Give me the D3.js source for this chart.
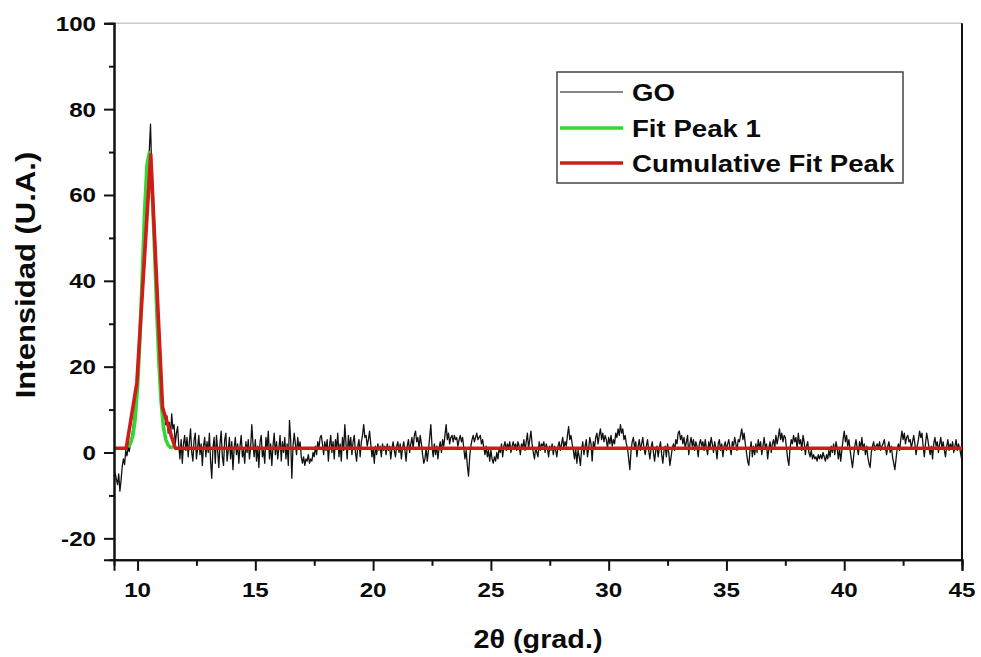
<!DOCTYPE html>
<html>
<head>
<meta charset="utf-8">
<script src="https://cdn.jsdelivr.net/npm/d3@7/dist/d3.min.js"></script>
<style>
  html, body { margin: 0; padding: 0; background: #fff; }
  svg { display: block; }
  text { font-family: "Liberation Sans", Arial, Helvetica, sans-serif; font-weight: bold; fill: #0a0a0a; }
</style>
</head>
<body>
<svg id="chart" width="981" height="657"></svg>
<script>
// X-ray diffraction pattern of GO (2θ from 9° to 45°, sampled every 0.05°)
const goStart = 9;
const goStep = 0.05;
const goIntensity = [
  -5.5,-4.8,-6.2,-7.5,-5.0,-9.0,-6.5,-3.2,-1.5,-2.8,0.5,-0.8,1.2,0.2,2.5,3.8,5.5,8.0,10.5,14.0,
  18.5,22.0,28.5,34.0,41.0,47.5,54.0,59.0,64.5,68.0,70.5,76.5,66.0,61.0,54.5,46.0,38.5,31.0,25.5,19.0,
  15.5,12.0,10.5,9.0,6.5,8.5,4.5,7.0,3.5,9.0,5.5,6.5,2.0,4.5,6.0,1.5,-1.5,3.0,-2.5,2.0,
  4.0,0.5,3.5,-1.0,2.5,5.5,0.0,-2.0,3.0,4.5,-1.5,1.0,4.0,-0.5,2.0,-3.0,1.5,3.5,-1.0,2.5,
  0.0,4.5,-2.0,-6.0,1.0,3.5,-2.5,4.0,0.5,-3.5,2.0,5.0,-1.0,-3.0,3.0,4.5,-2.0,0.5,3.5,-1.5,
  2.5,-4.0,1.0,3.5,-0.5,2.0,-2.5,1.5,4.0,-1.0,0.5,-2.5,2.5,0.0,3.0,-1.5,1.0,6.5,2.0,-1.0,
  3.0,-2.0,1.5,-3.5,2.5,4.0,-1.0,0.5,-2.5,3.5,1.0,5.0,-1.5,2.0,-3.0,1.5,4.5,-0.5,2.5,-1.5,
  1.0,4.0,-2.0,2.5,0.0,3.5,-1.5,2.0,-3.0,7.5,3.0,-6.0,1.5,4.5,2.0,-0.5,3.5,1.0,2.5,-1.0,
  -2.5,-1.0,-3.0,-1.5,-2.0,-0.5,-2.5,-1.5,-2.0,0.0,-1.0,1.5,-0.5,2.5,1.0,3.5,4.0,2.0,-0.5,2.5,
  0.5,3.0,-2.0,1.5,4.0,0.0,2.5,-1.5,3.0,1.0,4.5,-1.0,2.0,-2.0,3.5,0.5,6.5,2.0,-1.5,4.0,
  1.0,3.5,-0.5,2.5,4.0,0.0,-2.0,1.5,3.0,-1.0,2.5,4.0,6.5,3.5,4.0,1.5,3.0,5.0,2.0,-1.0,
  1.0,-2.5,1.5,-0.5,2.0,0.5,1.5,-1.0,2.0,0.5,1.5,-0.5,2.0,0.5,1.5,-1.5,1.0,2.5,0.5,-1.0,
  1.5,2.5,0.0,2.0,-1.5,1.0,2.5,0.5,-2.0,1.5,3.0,0.0,2.0,3.5,1.0,4.0,5.0,2.5,3.5,1.0,
  4.0,2.0,-0.5,-2.5,-1.5,1.0,-2.0,0.5,3.5,6.5,1.5,-1.0,2.0,-0.5,1.5,-1.5,1.0,2.5,0.0,3.0,
  1.5,4.0,6.5,3.0,4.5,2.0,3.5,4.0,2.5,4.0,3.0,3.5,1.5,3.0,4.0,2.5,3.5,1.0,-1.5,0.5,
  -3.0,-5.5,-1.0,1.5,3.0,4.0,2.5,3.5,4.5,3.0,3.5,4.0,2.0,3.0,1.0,-0.5,1.5,-1.0,0.5,-2.0,
  0.5,-1.5,-2.5,-1.0,-2.0,0.0,-1.5,1.0,0.0,2.0,-1.0,1.5,2.5,0.5,2.0,1.0,2.5,0.0,1.5,2.5,
  1.0,2.0,0.5,2.5,1.5,-0.5,2.0,1.0,3.0,0.5,2.5,4.5,1.0,3.0,5.0,2.0,0.0,-1.5,1.0,0.0,
  -1.0,2.5,0.5,2.0,1.5,2.5,0.0,2.0,1.0,-1.0,1.5,0.5,2.0,-0.5,1.5,0.5,-1.0,1.5,2.5,0.5,
  2.0,3.5,1.0,2.5,1.5,4.0,6.0,3.0,4.0,2.0,0.5,-1.5,1.0,-2.5,0.5,-1.0,-3.0,0.5,2.5,-0.5,
  1.5,3.0,-1.0,1.0,3.5,2.0,-2.0,2.5,1.0,3.5,4.5,2.0,4.0,5.5,3.0,4.5,2.5,4.0,3.0,1.0,
  3.5,2.0,4.0,1.5,3.0,2.0,4.5,3.5,5.5,4.0,6.5,4.5,5.5,3.0,4.0,2.0,1.0,-1.5,-4.0,0.5,
  2.5,3.5,1.0,2.5,-1.0,1.5,3.0,0.5,2.0,3.5,1.0,-0.5,1.5,3.0,0.5,-1.5,1.0,2.5,0.0,-2.0,
  0.5,1.5,-1.0,1.0,2.5,-0.5,-2.5,0.5,1.5,-1.0,2.0,0.0,-3.0,-1.0,1.0,2.0,0.5,3.0,2.0,4.5,
  5.0,3.0,4.0,2.0,3.5,1.0,2.5,4.0,-0.5,2.0,3.5,1.5,3.0,0.5,2.5,1.5,-1.0,2.0,3.0,1.5,
  2.5,0.5,3.0,1.0,-0.5,2.5,1.0,3.5,2.0,0.0,2.5,1.0,-1.5,2.0,3.0,0.5,2.0,-1.0,1.5,2.5,
  0.5,2.0,3.0,1.0,-0.5,2.5,1.5,3.5,2.0,0.5,3.0,2.5,4.0,5.5,3.0,4.5,2.0,0.0,-2.0,-3.0,
  0.5,2.5,-1.0,1.5,-0.5,2.0,0.0,3.0,1.0,2.5,-0.5,1.5,3.5,1.0,2.0,-1.5,1.0,2.5,0.0,2.0,
  3.0,1.0,4.0,2.0,3.5,5.5,3.0,4.5,2.5,4.0,3.5,1.0,-1.5,-3.0,1.0,3.0,2.0,4.0,2.5,3.5,
  1.0,4.5,2.0,3.0,0.5,4.0,2.5,-0.5,1.5,2.5,0.0,-1.0,0.5,-1.5,-0.5,-1.5,-1.0,-2.0,-0.5,-1.5,
  -0.5,-1.5,0.0,-1.0,-2.0,-0.5,-1.5,0.5,-1.0,1.5,0.0,2.0,-0.5,2.5,1.0,-1.5,1.0,-2.0,0.5,3.0,
  5.0,2.5,4.0,1.5,3.0,0.5,-1.5,-3.5,-1.0,1.5,3.0,1.0,-0.5,2.5,1.0,3.5,0.5,2.0,-0.5,1.5,
  -1.0,-2.5,-3.5,0.0,1.5,2.5,0.5,1.5,2.0,1.0,2.5,0.5,1.5,2.0,3.0,1.0,-0.5,1.5,2.5,0.0,
  1.5,-1.0,-2.5,-4.0,-1.5,1.0,2.0,0.5,3.0,5.0,3.0,4.5,2.0,3.5,4.0,2.5,3.0,1.0,2.5,4.0,
  2.0,-0.5,1.5,3.0,5.0,3.5,4.5,1.5,-1.0,2.0,4.5,3.0,1.0,-0.5,1.5,-1.5,2.0,3.5,1.5,2.5,
  0.0,2.0,3.5,1.0,2.5,0.5,-1.0,1.5,3.0,0.5,2.0,1.0,2.5,0.0,1.5,3.0,0.5,2.0,1.0,-0.5,
  -2.0
];

// Gaussian component of the fit (Fit Peak 1)
const fitPeakX = [9.6, 9.7, 9.8, 9.9, 10.0, 10.1, 10.2, 10.3, 10.4, 10.5, 10.6, 10.7, 10.8, 10.9, 11.0, 11.1, 11.2, 11.3, 11.4, 11.5];
const fitPeakY = [1.3, 2.1, 3.9, 7.9, 15.2, 26.6, 41.3, 56.3, 67.0, 69.8, 63.5, 50.5, 35.2, 21.6, 11.8, 5.9, 3.0, 1.7, 1.2, 1.1];

// Cumulative fit (baseline + peak)
const cumFitX = [9.0, 9.52, 9.97, 10.56, 11.06, 11.6, 45.0];
const cumFitY = [1.0, 1.0, 16.2, 69.4, 10.5, 1.0, 1.0];

// Axes
const xTicks = [10, 15, 20, 25, 30, 35, 40, 45];
const xMinorTicks = [12.5, 17.5, 22.5, 27.5, 32.5, 37.5, 42.5];
const yTicks = [-20, 0, 20, 40, 60, 80, 100];
const yMinorTicks = [-10, 10, 30, 50, 70, 90];

const seriesNames = ["GO", "Fit Peak 1", "Cumulative Fit Peak"];
const seriesColors = ["#111111", "#33d633", "#d11a1a"];
const seriesWidths = [1.3, 3.6, 3.6];

const xTitle = "2\u03b8 (grad.)";
const yTitle = "Intensidad (U.A.)";

const svg = d3.select("#chart");
const plot = { left: 114, right: 962, top: 23.3, bottom: 559.8 };
const stretch = 1.15;

const x = d3.scaleLinear().domain([9, 45]).range([plot.left, plot.right]);
const y = d3.scaleLinear().domain([-25, 100]).range([plot.bottom, plot.top]);

// frame: light top edge, dark right edge
svg.append("line")
  .attr("x1", plot.left).attr("x2", plot.right)
  .attr("y1", plot.top).attr("y2", plot.top)
  .attr("stroke", "#c8c8c8").attr("stroke-width", 1.5);
svg.append("line")
  .attr("x1", plot.right).attr("x2", plot.right)
  .attr("y1", plot.top).attr("y2", plot.bottom)
  .attr("stroke", "#111").attr("stroke-width", 2);

// data
const goData = goIntensity.map((v, i) => [goStart + i * goStep, v]);
const fitData = fitPeakX.map((v, i) => [v, fitPeakY[i]]);
const cumData = cumFitX.map((v, i) => [v, cumFitY[i]]);

const line = d3.line().x(d => x(d[0])).y(d => y(d[1]));

svg.append("path").datum(goData)
  .attr("d", line).attr("fill", "none")
  .attr("stroke", seriesColors[0]).attr("stroke-width", seriesWidths[0])
  .attr("stroke-linejoin", "round");
svg.append("path").datum(fitData)
  .attr("d", line).attr("fill", "none")
  .attr("stroke", seriesColors[1]).attr("stroke-width", seriesWidths[1])
  .attr("stroke-linejoin", "round");
svg.append("path").datum(cumData)
  .attr("d", line).attr("fill", "none")
  .attr("stroke", seriesColors[2]).attr("stroke-width", seriesWidths[2])
  .attr("stroke-linejoin", "round");

// bottom axis
const xAxis = svg.append("g").attr("transform", `translate(0,${plot.bottom})`);
xAxis.call(d3.axisBottom(x).tickValues(xTicks).tickSize(11).tickFormat(""));
xAxis.append("g").call(d3.axisBottom(x).tickValues(xMinorTicks).tickSize(6).tickFormat(""));
xAxis.selectAll("path.domain").attr("stroke", "#111").attr("stroke-width", 2);
xAxis.selectAll(".tick line").attr("stroke", "#111").attr("stroke-width", 2);

// left axis
const yAxis = svg.append("g").attr("transform", `translate(${plot.left},0)`);
yAxis.call(d3.axisLeft(y).tickValues(yTicks).tickSize(10).tickFormat(""));
yAxis.append("g").call(d3.axisLeft(y).tickValues(yMinorTicks).tickSize(5).tickFormat(""));
yAxis.selectAll("path.domain").attr("stroke", "#111").attr("stroke-width", 2);
yAxis.selectAll(".tick line").attr("stroke", "#111").attr("stroke-width", 2);

// tick labels
svg.append("g").selectAll("text").data(xTicks).join("text")
  .attr("transform", d => `translate(${x(d)},597) scale(${stretch},1)`)
  .attr("text-anchor", "middle")
  .style("font-size", "21px")
  .text(d => d);

svg.append("g").selectAll("text").data(yTicks).join("text")
  .attr("transform", d => `translate(96,${y(d) + 7.5}) scale(${stretch},1)`)
  .attr("text-anchor", "end")
  .style("font-size", "21px")
  .text(d => d);

// axis titles
svg.append("text")
  .attr("transform", `translate(${(plot.left + plot.right) / 2},648) scale(${stretch},1)`)
  .attr("text-anchor", "middle")
  .style("font-size", "25px")
  .text(xTitle);

svg.append("text")
  .attr("transform", `translate(35,275) rotate(-90) scale(${stretch},1)`)
  .attr("text-anchor", "middle")
  .style("font-size", "27px")
  .text(yTitle);

// legend
const legend = svg.append("g");
legend.append("rect")
  .attr("x", 557).attr("y", 72).attr("width", 346).attr("height", 111)
  .attr("fill", "#fff").attr("stroke", "#444").attr("stroke-width", 1.5);
const rowY = [92, 128, 163];
seriesNames.forEach((name, i) => {
  legend.append("line")
    .attr("x1", 560).attr("x2", 623)
    .attr("y1", rowY[i]).attr("y2", rowY[i])
    .attr("stroke", seriesColors[i]).attr("stroke-width", i === 0 ? 1 : seriesWidths[i]);
  legend.append("text")
    .attr("transform", `translate(632,${rowY[i] + 8.5}) scale(${stretch},1)`)
    .style("font-size", "24px")
    .text(name);
});
</script>
</body>
</html>
